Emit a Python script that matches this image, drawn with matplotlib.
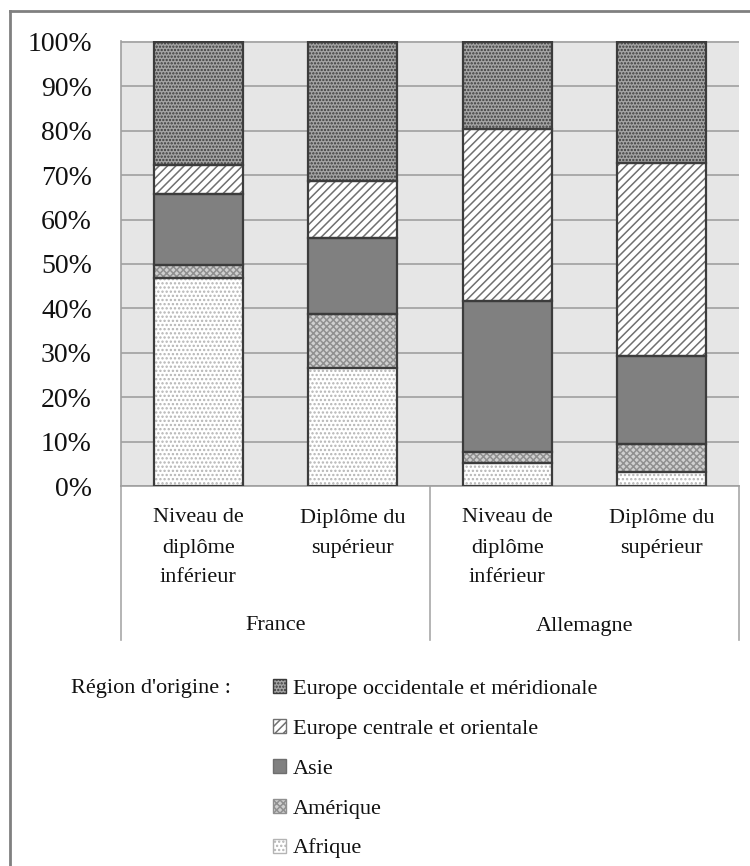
import matplotlib
matplotlib.use('Agg')
import matplotlib.pyplot as plt
from matplotlib.patches import Patch
from matplotlib.lines import Line2D
from matplotlib.ticker import PercentFormatter
import numpy as np

# Données (part en %)
groupes = ['France', 'Allemagne']
categories = [['Niveau de', 'diplôme', 'inférieur'], ['Diplôme du', 'supérieur'],
              ['Niveau de', 'diplôme', 'inférieur'], ['Diplôme du', 'supérieur']]
afrique = [46.8, 26.5, 5.2, 3.1]
amerique = [2.9, 12.2, 2.4, 6.3]
asie = [16.1, 17.2, 34.0, 19.8]
europe_centrale = [6.5, 12.8, 38.8, 43.5]
europe_occ = [27.7, 31.3, 19.6, 27.3]

series = [
    ('Afrique', afrique, 'white', '....', '#b4b4b4'),
    ('Amérique', amerique, '#d0d0d0', 'xxxxx', '#909090'),
    ('Asie', asie, '#808080', None, '#808080'),
    ('Europe centrale et orientale', europe_centrale, 'white', '////', '#707070'),
    ('Europe occidentale et méridionale', europe_occ, '#a4a4a4', '.....', '#3a3a3a'),
]

plt.rcParams['font.family'] = ['Liberation Serif', 'DejaVu Serif']
plt.rcParams['hatch.linewidth'] = 1.1

W, H = 750, 866
fig = plt.figure(figsize=(7.5, 8.66), dpi=100)
ax = fig.add_axes([121 / W, 1 - 486 / H, 618 / W, 445 / H])
ax.set_facecolor('#e6e6e6')

x = np.arange(len(afrique))
bottom = np.zeros(len(x))
for nom, vals, face, hatch, hc in series:
    v = np.array(vals) / 100
    ax.bar(x, v, 0.574, bottom=bottom, color=face, hatch=hatch, edgecolor=hc, linewidth=0, zorder=2)
    ax.bar(x, v, 0.574, bottom=bottom, fill=False, edgecolor='#3c3c3c', linewidth=1.6, zorder=3)
    bottom += v

ax.set_xlim(-0.5, 3.5)
ax.set_ylim(0, 1.002)
ax.set_yticks(np.arange(0, 1.01, 0.1))
ax.yaxis.set_major_formatter(PercentFormatter(1.0, decimals=0))
ax.tick_params(axis='y', length=0, pad=21, labelsize=20, labelcolor='#111111')
ax.set_xticks([])
ax.grid(axis='y', color='#a0a0a0', linewidth=1.2, zorder=1)
ax.set_axisbelow(True)
for s in ['top', 'right']:
    ax.spines[s].set_visible(False)
for s in ['left', 'bottom']:
    ax.spines[s].set_color('#a0a0a0')
    ax.spines[s].set_linewidth(1.2)

# zone des catégories sous l'axe
trans = ax.get_xaxis_transform()
y_bas = -(640 - 486) / 445
for xv in [-0.5, 1.5, 3.5]:
    ax.plot([xv, xv], [0, y_bas], transform=trans, color='#a8a8a8', lw=1.2, clip_on=False)

for i, lignes in enumerate(categories):
    for j, ligne in enumerate(lignes):
        yp = 518 + 30 * j
        ax.text(i, -(yp - 486) / 445, ligne, transform=trans, ha='center', va='center',
                fontsize=16, color='#111111')
for k, g in enumerate(groupes):
    ax.text(0.5 + 2 * k, -(626 - 486) / 445, g, transform=trans, ha='center', va='center',
            fontsize=16, color='#111111')

# cadre extérieur (gauche et haut)
fig.add_artist(Line2D([10 / W, 10 / W], [0, 1 - 10.7 / H], color='#808080', lw=2))
fig.add_artist(Line2D([10 / W, 1], [1 - 10.7 / H, 1 - 10.7 / H], color='#808080', lw=2))

# légende
fig.text(71 / W, 1 - 688 / H, "Région d'origine :", fontsize=16, va='center', color='#111111')
handles = [Patch(facecolor=face, hatch=hatch, edgecolor=hc if hatch else '#6e6e6e', label=nom)
           for nom, vals, face, hatch, hc in series][::-1]
fig.legend(handles=handles, loc='upper left', bbox_to_anchor=(273 / W, 1 - 679 / H),
           frameon=False, fontsize=16, handlelength=0.6, handleheight=0.6,
           handletextpad=0.3, labelspacing=0.9, borderpad=0, borderaxespad=0,
           labelcolor='#111111')

plt.savefig('out.png', dpi=100)
